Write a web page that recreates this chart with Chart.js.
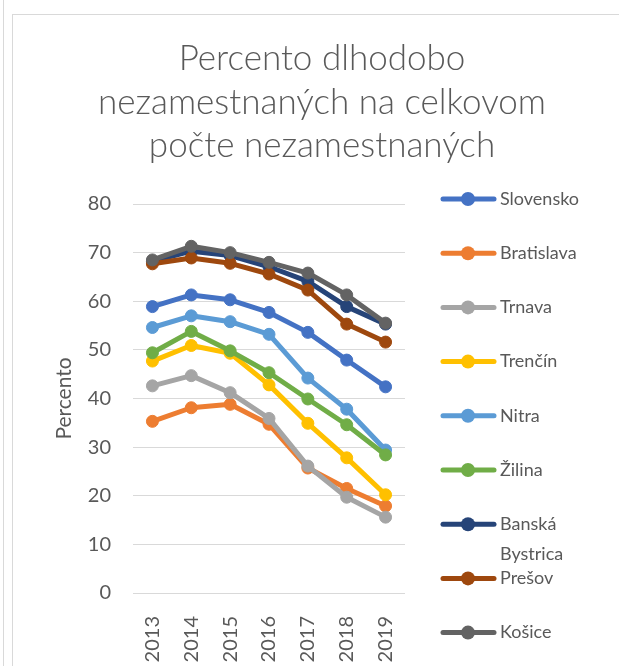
<!DOCTYPE html>
<html lang="sk">
<head>
    <meta charset="UTF-8">
    <title>Percento dlhodobo nezamestnaných</title>
    <script src="https://cdn.jsdelivr.net/npm/chart.js"></script>
    <style>
        body {
            margin: 0;
            background: #ffffff;
            overflow: hidden;
        }
        .wrap {
            position: relative;
            width: 619px;
            height: 666px;
        }
        .frame-outer {
            position: absolute;
            left: 3px;
            top: 0;
            width: 1px;
            height: 666px;
            background: #d9d9d9;
        }
        .frame {
            position: absolute;
            left: 12px;
            top: 14px;
            width: 640px;
            height: 700px;
            border: 1px solid #d9d9d9;
            pointer-events: none;
        }
        canvas {
            position: absolute;
            left: 0;
            top: 0;
        }
    </style>
</head>
<body>
    <div class="wrap">
        <div class="frame-outer"></div>
        <div class="frame"></div>
        <canvas id="chart" width="619" height="666"></canvas>
    </div>

    <script>
        // Data
        const years = ['2013', '2014', '2015', '2016', '2017', '2018', '2019'];
        const regions = ['Slovensko', 'Bratislava', 'Trnava', 'Trenčín', 'Nitra', 'Žilina', 'Banská Bystrica', 'Prešov', 'Košice'];
        const slovensko = [58.9, 61.3, 60.3, 57.7, 53.6, 47.9, 42.4];
        const bratislava = [35.3, 38.1, 38.8, 34.7, 25.7, 21.5, 17.9];
        const trnava = [42.6, 44.7, 41.2, 35.9, 26.1, 19.7, 15.6];
        const trencin = [47.7, 50.9, 49.3, 42.8, 34.9, 27.8, 20.2];
        const nitra = [54.6, 57.0, 55.8, 53.2, 44.2, 37.8, 29.4];
        const zilina = [49.4, 53.8, 49.8, 45.3, 39.9, 34.6, 28.4];
        const banskaBystrica = [68.2, 70.3, 69.4, 67.1, 64.1, 58.9, 55.3];
        const presov = [67.7, 68.9, 67.8, 65.6, 62.3, 55.3, 51.6];
        const kosice = [68.5, 71.3, 70.0, 68.0, 65.8, 61.3, 55.5];
        const yTicks = [0, 10, 20, 30, 40, 50, 60, 70, 80];

        const seriesValues = [slovensko, bratislava, trnava, trencin, nitra, zilina, banskaBystrica, presov, kosice];
        const colors = ['#4472C4', '#ED7D31', '#A5A5A5', '#FFC000', '#5B9BD5', '#70AD47', '#264478', '#9E480E', '#636363'];

        const titleLines = ['Percento dlhodobo', 'nezamestnaných na celkovom', 'počte nezamestnaných'];
        const textColor = '#595959';
        const font = 'Lato, "Open Sans", sans-serif';

        const datasets = regions.map((name, i) => ({
            label: name,
            data: seriesValues[i],
            borderColor: colors[i],
            backgroundColor: colors[i],
            pointBackgroundColor: colors[i],
            pointBorderColor: colors[i],
            borderWidth: 5,
            pointRadius: 6,
            pointBorderWidth: 1,
            borderCapStyle: 'round',
            borderJoinStyle: 'round',
            tension: 0,
            // later series drawn on top, like the original
            order: regions.length - i
        }));

        // Title and legend drawn by hand so they sit where the original has them
        const titleAndLegend = {
            id: 'titleAndLegend',
            afterDraw(chart) {
                const ctx = chart.ctx;
                ctx.save();
                ctx.fillStyle = textColor;
                ctx.textAlign = 'center';
                ctx.textBaseline = 'alphabetic';
                ctx.font = '300 35px ' + font;
                titleLines.forEach((line, i) => {
                    ctx.fillText(line, 322, 70 + i * 43.5);
                });

                ctx.textAlign = 'left';
                ctx.textBaseline = 'middle';
                ctx.font = '18px ' + font;
                chart.data.datasets.forEach((ds, i) => {
                    const y = 199 + i * 54.2;
                    ctx.strokeStyle = ds.borderColor;
                    ctx.lineWidth = 5;
                    ctx.lineCap = 'round';
                    ctx.beginPath();
                    ctx.moveTo(443, y);
                    ctx.lineTo(494, y);
                    ctx.stroke();
                    ctx.fillStyle = ds.borderColor;
                    ctx.beginPath();
                    ctx.arc(468, y, 7, 0, Math.PI * 2);
                    ctx.fill();
                    ctx.fillStyle = textColor;
                    const words = ds.label.split(' ');
                    if (words.length > 1) {
                        ctx.fillText(words[0], 500, y);
                        ctx.fillText(words.slice(1).join(' '), 500, y + 30);
                    } else {
                        ctx.fillText(ds.label, 500, y);
                    }
                });
                ctx.restore();
            }
        };

        const ctx = document.getElementById('chart').getContext('2d');
        const chart = new Chart(ctx, {
            type: 'line',
            data: {
                labels: years,
                datasets: datasets
            },
            options: {
                responsive: false,
                animation: false,
                devicePixelRatio: 1,
                layout: {
                    padding: { left: 52, right: 214, top: 204, bottom: 0 }
                },
                plugins: {
                    legend: { display: false },
                    title: { display: false },
                    tooltip: { enabled: false }
                },
                scales: {
                    x: {
                        offset: true,
                        grid: { display: false, drawTicks: false },
                        border: { display: false },
                        ticks: {
                            color: textColor,
                            font: { family: font, size: 20 },
                            minRotation: 90,
                            maxRotation: 90,
                            padding: 23
                        },
                        afterFit(scale) {
                            scale.height = 73;
                        }
                    },
                    y: {
                        min: 0,
                        max: 80,
                        afterBuildTicks(scale) {
                            scale.ticks = yTicks.map(v => ({ value: v }));
                        },
                        grid: { color: '#D9D9D9', lineWidth: 1, drawTicks: false },
                        border: { display: false },
                        ticks: {
                            color: textColor,
                            font: { family: font, size: 20 },
                            padding: 22
                        },
                        title: {
                            display: true,
                            text: 'Percento',
                            color: textColor,
                            font: { family: font, size: 21 },
                            padding: 0
                        },
                        afterFit(scale) {
                            scale.width = 81;
                        }
                    }
                }
            },
            plugins: [titleAndLegend]
        });
    </script>
</body>
</html>
